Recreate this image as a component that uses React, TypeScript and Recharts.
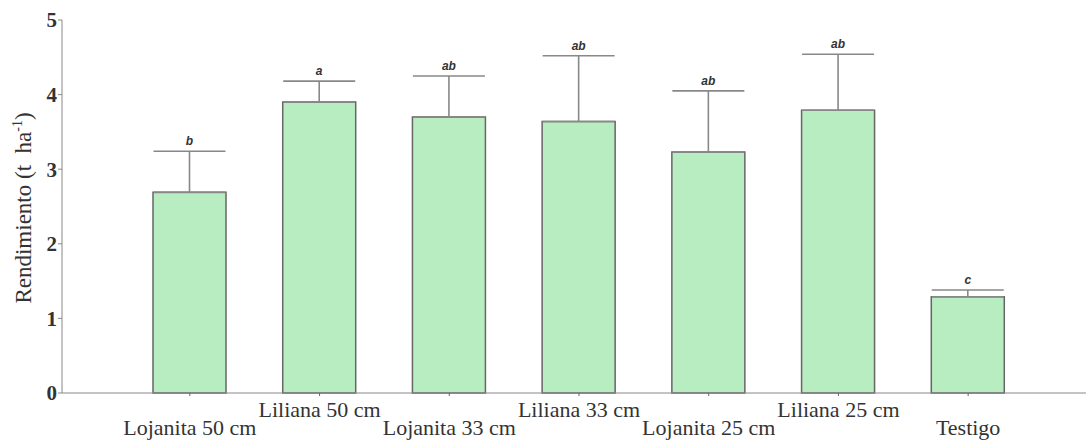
import React from "react";
import {
  Bar,
  BarChart,
  ErrorBar,
  LabelList,
  XAxis,
  YAxis,
} from "recharts";

const tratamientos = [
  "Lojanita 50 cm",
  "Liliana 50 cm",
  "Lojanita 33 cm",
  "Liliana 33 cm",
  "Lojanita 25 cm",
  "Liliana 25 cm",
  "Testigo",
];
const rendimiento = [2.69, 3.9, 3.7, 3.64, 3.23, 3.79, 1.29];
const errorSup = [0.55, 0.28, 0.55, 0.88, 0.82, 0.75, 0.09];
const letras = ["b", "a", "ab", "ab", "ab", "ab", "c"];
const yTicks = [0, 1, 2, 3, 4, 5];

const data = tratamientos.map((t, i) => ({
  name: t,
  media: rendimiento[i],
  err: [0, errorSup[i]],
  letra: letras[i],
}));

const serif = "'Liberation Serif', 'Times New Roman', serif";

// etiquetas del eje X alternadas en dos alturas
function XTick(props: any) {
  const { x, y, payload, index } = props;
  const dy = index % 2 === 0 ? 37 : 19;
  return (
    <text
      x={x}
      y={y + dy}
      textAnchor="middle"
      style={{ fontFamily: serif, fontSize: 22 }}
      fill="#333"
    >
      {payload.value}
    </text>
  );
}

// letra de significancia sobre el extremo superior de la barra de error
function LetraLabel(props: any) {
  const { x, y, width, height, index } = props;
  const d = data[index];
  const pxPorUnidad = height / d.media;
  const top = y + height - (d.media + errorSup[index]) * pxPorUnidad;
  return (
    <text
      x={x + width / 2}
      y={top - 6}
      textAnchor="middle"
      style={{
        fontFamily: "'Liberation Sans', Arial, sans-serif",
        fontSize: 12,
        fontWeight: "bold",
        fontStyle: "italic",
      }}
      fill="#333"
    >
      {d.letra}
    </text>
  );
}

function YLabel() {
  return (
    <text
      transform="translate(31, 208) rotate(-90)"
      textAnchor="middle"
      fill="#333"
      style={{ fontFamily: serif, fontSize: 23, whiteSpace: "pre" }}
    >
      {"Rendimiento (t  ha"}
      <tspan dy={-9} style={{ fontSize: 14 }}>-1</tspan>
      <tspan dy={9}>)</tspan>
    </text>
  );
}

export default function App() {
  return (
    <div style={{ width: 1086, height: 442 }}>
      <style>{`body { margin: 0; }`}</style>
      <BarChart
        width={1086}
        height={442}
        data={data}
        margin={{ top: 20, right: 0, bottom: 19, left: 0 }}
        barSize={73}
      >
        <XAxis
          dataKey="name"
          interval={0}
          padding={{ left: 63, right: 53 }}
          stroke="#888"
          tickSize={3}
          tick={<XTick />}
          tickLine={{ stroke: "#666" }}
        />
        <YAxis
          width={62}
          domain={[0, 5]}
          ticks={yTicks}
          stroke="#888"
          tickSize={4}
          tickMargin={1}
          tick={{
            fontFamily: serif,
            fontSize: 21,
            fontWeight: "bold",
            fill: "#333",
          }}
          label={{ content: <YLabel /> }}
        />
        <Bar
          dataKey="media"
          fill="#b8ecc1"
          stroke="#666"
          strokeWidth={1.5}
          isAnimationActive={false}
        >
          <ErrorBar
            dataKey="err"
            direction="y"
            width={36}
            stroke="#888"
            strokeWidth={1.6}
            isAnimationActive={false}
          />
          <LabelList dataKey="letra" content={<LetraLabel />} />
        </Bar>
      </BarChart>
    </div>
  );
}
